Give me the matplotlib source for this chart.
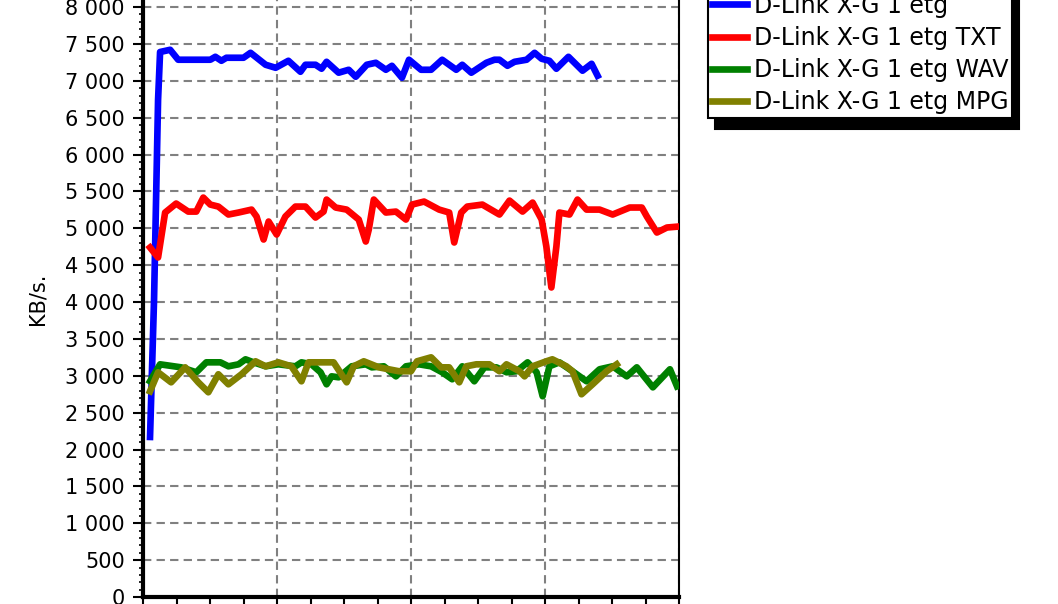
import matplotlib
matplotlib.use("Agg")
import matplotlib.pyplot as plt
from matplotlib.ticker import MultipleLocator, FuncFormatter

# --- data (x in arbitrary sample units, y in KB/s) ---
blue_x = [2.1, 3.3, 4.5, 5.1, 8.1, 10.5, 20.1, 21.6, 23.4, 24.9, 30.0, 32.1, 36.6, 39.6, 43.4,
          47.0, 48.5, 51.5, 53.3, 54.8, 58.4, 61.4, 63.5, 66.8, 69.5, 72.5, 74.3, 77.3, 79.4,
          83.0, 86.0, 89.3, 93.5, 95.3, 98.0, 102.5, 104.9, 106.4, 108.8, 110.9, 114.5, 116.9,
          119.0, 121.3, 123.4, 127.0, 131.2, 133.9, 135.7]
blue_y = [2170, 4035, 6743, 7390, 7420, 7285, 7285, 7325, 7271, 7312, 7312, 7379, 7217, 7176, 7271,
          7122, 7217, 7217, 7163, 7257, 7109, 7149, 7054, 7217, 7244, 7149, 7203, 7041, 7285,
          7149, 7149, 7285, 7149, 7217, 7109, 7244, 7285, 7285, 7203, 7257, 7285, 7379,
          7298, 7271, 7163, 7325, 7136, 7230, 7068]

red_x = [2.1, 4.5, 6.6, 9.9, 13.5, 15.9, 18.0, 20.1, 22.5, 25.5, 28.5, 32.4, 33.9, 36.0, 37.5,
         39.9, 42.5, 45.5, 48.5, 51.5, 53.9, 54.8, 57.5, 60.8, 64.4, 66.5, 67.4, 68.9, 72.5,
         75.5, 78.5, 80.3, 83.9, 88.4, 91.4, 92.9, 95.0, 96.8, 101.3, 106.4, 109.4, 113.3,
         116.3, 119.0, 120.4, 121.9, 123.4, 124.3, 127.3, 129.7, 132.4, 136.3, 140.2, 145.3,
         148.9, 150.4, 153.4, 156.4, 159.8]
red_y = [4739, 4604, 5213, 5335, 5226, 5226, 5416, 5321, 5294, 5186, 5213, 5253, 5159, 4847, 5091,
         4915, 5159, 5294, 5294, 5145, 5226, 5389, 5281, 5253, 5118, 4820, 4983, 5389, 5213,
         5226, 5118, 5321, 5362, 5253, 5213, 4807, 5213, 5294, 5321, 5186, 5375, 5226,
         5348, 5118, 4753, 4197, 4753, 5213, 5186, 5389, 5253, 5253, 5186, 5281,
         5281, 5159, 4942, 5010, 5023]

wav_x = [2.1, 5.1, 11.4, 15.9, 18.9, 23.1, 25.5, 28.5, 30.6, 33.0, 36.6, 40.4, 45.5, 47.3, 50.3,
         53.0, 54.8, 56.3, 58.4, 62.3, 66.5, 68.3, 71.9, 75.5, 78.5, 82.4, 86.0, 89.3, 92.3,
         95.3, 98.9, 101.9, 105.5, 108.5, 111.5, 114.8, 117.5, 119.3, 121.3, 124.3, 128.2,
         132.4, 136.3, 140.2, 144.4, 147.4, 152.2, 157.3, 159.4]
wav_y = [2925, 3155, 3114, 3047, 3182, 3182, 3128, 3155, 3223, 3182, 3128, 3155, 3128, 3182, 3155,
         3047, 2884, 2992, 2979, 3128, 3155, 3114, 3128, 2992, 3128, 3155, 3128, 3047, 2952,
         3128, 2925, 3114, 3114, 3047, 3061, 3182, 3047, 2722, 3128, 3182, 3061,
         2925, 3088, 3128, 2992, 3114, 2843, 3088, 2857]

mpg_x = [2.1, 4.5, 8.4, 12.6, 16.5, 19.5, 22.5, 25.5, 29.4, 33.6, 36.6, 40.4, 44.3, 47.3, 49.4,
         54.5, 56.9, 60.8, 62.9, 65.9, 70.4, 76.4, 80.0, 81.8, 86.0, 89.0, 91.4, 94.4, 96.5,
         99.5, 103.4, 106.4, 108.5, 112.4, 113.9, 116.3, 120.4, 122.2, 126.4, 128.2, 130.9,
         134.2, 138.4, 141.4]
mpg_y = [2789, 3047, 2911, 3114, 2911, 2776, 3020, 2884, 3020, 3196, 3128, 3182, 3128, 2925, 3182,
         3182, 3182, 2911, 3128, 3196, 3114, 3061, 3061, 3196, 3250, 3114, 3114, 2911, 3128,
         3155, 3155, 3061, 3155, 3061, 2992, 3128, 3196, 3223, 3128, 3061, 2749,
         2884, 3061, 3155]

labels = ["D-Link X-G 1 etg", "D-Link X-G 1 etg TXT", "D-Link X-G 1 etg WAV", "D-Link X-G 1 etg MPG"]
colors = ["#0000ff", "#ff0000", "#008000", "#808000"]


def main():
    fig = plt.figure(figsize=(10.58, 6.04), dpi=100)
    W, H = 1058, 604
    ax = fig.add_axes([143 / W, 7 / H, (679 - 143) / W, 597 / H])

    series = [(blue_x, blue_y), (red_x, red_y), (wav_x, wav_y), (mpg_x, mpg_y)]
    for (xs, ys), lab, col in zip(series, labels, colors):
        ax.plot(xs, ys, color=col, lw=4.8, label=lab, solid_joinstyle="round", zorder=3)

    ax.set_xlim(0, 160)
    ax.set_ylim(0, 8095)

    # y axis: labels every 500 with space as thousands separator
    ax.yaxis.set_major_locator(MultipleLocator(500))
    ax.yaxis.set_minor_locator(MultipleLocator(100))
    ax.yaxis.set_major_formatter(FuncFormatter(lambda v, p: f"{int(v):,}".replace(",", " ")))
    ax.xaxis.set_major_locator(MultipleLocator(40))
    ax.xaxis.set_minor_locator(MultipleLocator(10))
    ax.tick_params(axis="x", which="both", direction="out", length=7, width=1.5, labelbottom=False)
    ax.tick_params(axis="y", which="major", direction="out", length=7, width=1.5, labelsize=15, pad=6)
    ax.tick_params(axis="y", which="minor", direction="out", length=3, width=1.2)

    ax.grid(True, which="major", color="#808080", lw=1.5, linestyle=(0, (4, 2.5)))
    ax.set_axisbelow(True)

    for s in ("left", "bottom"):
        ax.spines[s].set_linewidth(3)
    ax.spines["right"].set_linewidth(1.5)
    ax.spines["top"].set_visible(False)

    ax.set_ylabel("KB/s.", fontsize=15)
    ax.yaxis.set_label_coords(-0.178, 0.5)

    leg = fig.legend(loc="lower left", bbox_to_anchor=(708 / W, (H - 118) / H),
                     fontsize=17, handlelength=1.5, handletextpad=0.3, labelspacing=0.35,
                     borderpad=0.15, borderaxespad=0, fancybox=False, framealpha=1,
                     edgecolor="black",
                     shadow={"ox": 5, "oy": -8, "facecolor": "black", "edgecolor": "black", "alpha": 1})
    leg.get_frame().set_linewidth(1.5)

    fig.savefig("out.png", dpi=100)


if __name__ == "__main__":
    main()
